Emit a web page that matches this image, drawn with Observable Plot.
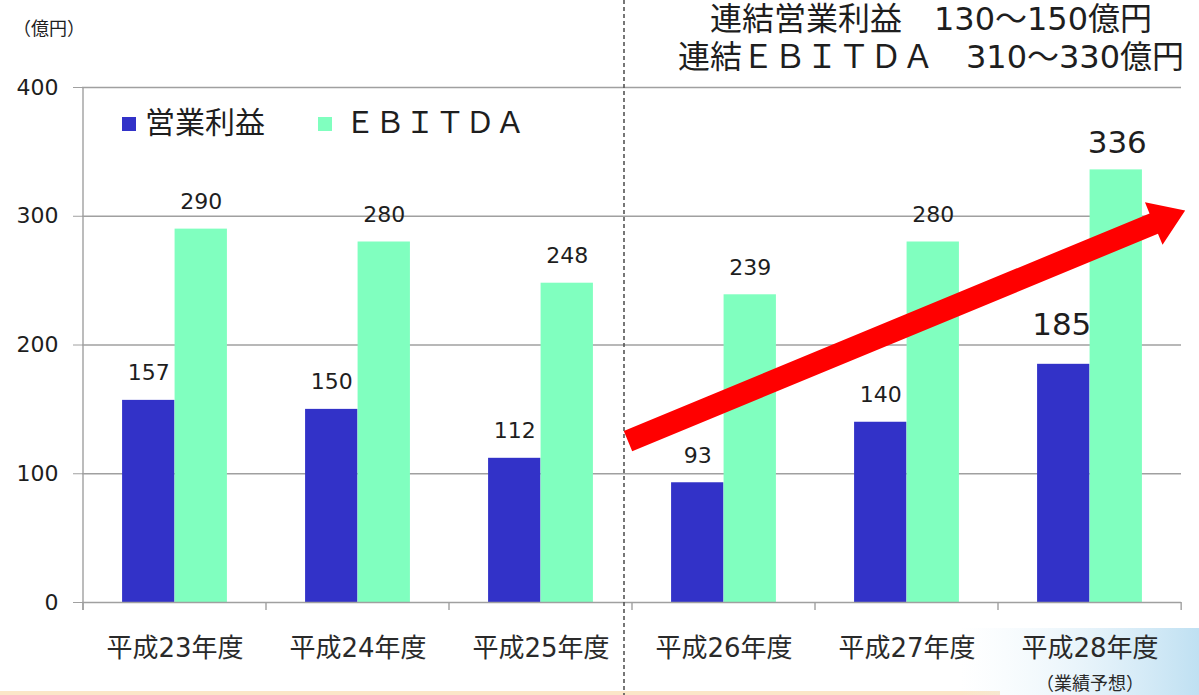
<!DOCTYPE html>
<html><head><meta charset="utf-8">
<script src="https://cdn.jsdelivr.net/npm/d3@7"></script>
<script src="https://cdn.jsdelivr.net/npm/@observablehq/plot@0.6"></script>
<style>
html,body{margin:0;padding:0;background:#fff;}
#chart{position:relative;width:1199px;height:695px;}
#chart svg g[aria-label^="y-axis"] line, #chart svg g[aria-label^="y-axis"] path {stroke:#a0a0a0;}
</style>
</head><body><div id="chart"></div>
<script>
// ---- data ----
const categories = ["平成23年度","平成24年度","平成25年度","平成26年度","平成27年度","平成28年度"];
const operatingProfit = [157,150,112,93,140,185];
const ebitda = [290,280,248,239,280,336];
const yTicks = [0,100,200,300,400];
const gridValues = [100,200,300,400];
const seriesNames = ["営業利益","ＥＢＩＴＤＡ"];
const forecastNote = "（業績予想）";
const unitLabel = "（億円）";
const targetLines = ["連結営業利益　130〜150億円","連結ＥＢＩＴＤＡ　310〜330億円"];
const arrowFrom = {category: "平成26年度", edge: 0, value: 125};
const arrowTo = {category: "平成28年度", edge: 1, value: 304};

// ---- style ----
const W = 1199, H = 695, mL = 82, mR = 18, mT = 87, mB = 93;
const BLUE = "#3232C8", GREEN = "#80FFBF", GRID = "#a0a0a0", INK = "#1e1e1e";
const NUM_FONT = "'DejaVu Sans', 'Noto Sans CJK JP', sans-serif";
const JP_FONT = "'Noto Sans CJK JP', sans-serif";
const bw = (W - mL - mR) / categories.length;
const barW = 52.5;

const rows = categories.map((c, i) => ({cat: c, op: operatingProfit[i], eb: ebitda[i], forecast: i === categories.length - 1}));
const normal = rows.filter(d => !d.forecast);
const fc = rows.filter(d => d.forecast);

const chart = Plot.plot({
  width: W, height: H,
  marginLeft: mL, marginRight: mR, marginTop: mT, marginBottom: mB,
  style: {fontFamily: NUM_FONT, fontSize: "22px", color: INK, background: "transparent"},
  x: {type: "band", domain: categories, padding: 0, axis: null},
  y: {domain: [0, 400], ticks: yTicks, tickSize: 9, tickPadding: 15, label: null, tickFormat: d => String(d)},
  marks: [
    Plot.ruleY(gridValues, {stroke: GRID, strokeWidth: 1.3}),
    Plot.barY(rows, {x: "cat", y: "op", fill: BLUE, insetLeft: bw / 2 - barW, insetRight: bw / 2}),
    Plot.barY(rows, {x: "cat", y: "eb", fill: GREEN, insetLeft: bw / 2, insetRight: bw / 2 - barW}),
    Plot.ruleY([0], {stroke: GRID, strokeWidth: 1.6}),
    Plot.text(normal, {x: "cat", y: "op", text: d => String(d.op), dx: -barW / 2, dy: -27, fontSize: 22, fill: INK}),
    Plot.text(normal, {x: "cat", y: "eb", text: d => String(d.eb), dx: barW / 2, dy: -27, fontSize: 22, fill: INK}),
    Plot.text(fc, {x: "cat", y: "op", text: d => String(d.op), dx: -barW / 2 - 2, dy: -39, fontSize: 31, fill: INK}),
    Plot.text(fc, {x: "cat", y: "eb", text: d => String(d.eb), dx: barW / 2 + 1, dy: -27, fontSize: 31, fill: INK}),
    Plot.text(categories, {x: d => d, y: () => 0, dy: 46, fontSize: 26, fontFamily: NUM_FONT, fill: "#2a2a2a"}),
    Plot.text([forecastNote], {x: () => categories[categories.length - 1], y: () => 0, dy: 82, fontSize: 18, fontFamily: JP_FONT, fill: "#2a2a2a"})
  ]
});
document.getElementById("chart").appendChild(chart);

// ---- annotations positioned through the plot's scales ----
const svg = d3.select(chart);
const xs = chart.scale("x"), ys = chart.scale("y");
const bandStart = c => xs.apply(c);
const y0 = ys.apply(0), yTop = ys.apply(400);

// background accents
const defs = svg.insert("defs", ":first-child");
const g1 = defs.append("linearGradient").attr("id", "bgblue").attr("x1", 0).attr("x2", 1).attr("y1", 0).attr("y2", 0);
g1.append("stop").attr("offset", "0%").attr("stop-color", "#e6f3fb").attr("stop-opacity", 0);
g1.append("stop").attr("offset", "100%").attr("stop-color", "#bfe0f2").attr("stop-opacity", 1);
svg.insert("rect", "defs + *").attr("x", 960).attr("y", 628).attr("width", W - 960).attr("height", H - 628).attr("fill", "url(#bgblue)");
svg.insert("rect", "defs + *").attr("x", 0).attr("y", H - 4).attr("width", 1000).attr("height", 4).attr("fill", "#fbe6c8");

// left axis line and category boundary ticks
const ax = svg.append("g").attr("stroke", GRID).attr("stroke-width", 1.4);
ax.append("line").attr("x1", bandStart(categories[0])).attr("x2", bandStart(categories[0])).attr("y1", yTop).attr("y2", y0 + 8);
categories.forEach((c, i) => {
  const xx = bandStart(c);
  ax.append("line").attr("x1", xx).attr("x2", xx).attr("y1", y0).attr("y2", y0 + 8);
  if (i === categories.length - 1) ax.append("line").attr("x1", xx + bw).attr("x2", xx + bw).attr("y1", y0).attr("y2", y0 + 8);
});

// dashed divider between actuals and plan
const divX = bandStart(categories[3]) - 8;
svg.append("line").attr("x1", divX).attr("x2", divX).attr("y1", 0).attr("y2", H)
  .attr("stroke", "#555").attr("stroke-width", 1.6).attr("stroke-dasharray", "4,3");

// red trend arrow
const p0 = [bandStart(arrowFrom.category) + arrowFrom.edge * bw - 4, ys.apply(arrowFrom.value)];
const p1 = [bandStart(arrowTo.category) + arrowTo.edge * bw + 4, ys.apply(arrowTo.value)];
const dxA = p1[0] - p0[0], dyA = p1[1] - p0[1], L = Math.hypot(dxA, dyA);
const ux = dxA / L, uy = dyA / L, nx = -uy, ny = ux;
const shaft = 11, head = 23, headLen = 34;
const hb = [p1[0] - ux * headLen, p1[1] - uy * headLen];
const pts = [
  [p0[0] + nx * shaft, p0[1] + ny * shaft],
  [hb[0] + nx * shaft, hb[1] + ny * shaft],
  [hb[0] + nx * head, hb[1] + ny * head],
  p1,
  [hb[0] - nx * head, hb[1] - ny * head],
  [hb[0] - nx * shaft, hb[1] - ny * shaft],
  [p0[0] - nx * shaft, p0[1] - ny * shaft]
];
svg.append("polygon").attr("points", pts.map(p => p.join(",")).join(" ")).attr("fill", "#ff0000");

// legend
const lg = svg.append("g").attr("font-family", JP_FONT).attr("font-size", 30).attr("fill", INK).attr("text-anchor", "start");
[[BLUE, 122, 145], [GREEN, 318, 345]].forEach(([col, sx, tx], i) => {
  lg.append("rect").attr("x", sx).attr("y", 117).attr("width", 14).attr("height", 14).attr("fill", col);
  lg.append("text").attr("x", tx).attr("y", 125).attr("dominant-baseline", "middle").text(seriesNames[i]);
});

// unit label and plan text
svg.append("text").attr("x", 13).attr("y", 30).attr("dominant-baseline", "middle").attr("text-anchor", "start")
  .attr("font-family", JP_FONT).attr("font-size", 18).attr("fill", INK).text(unitLabel);
targetLines.forEach((t, i) => {
  svg.append("text").attr("x", 931).attr("y", 21 + i * 38).attr("text-anchor", "middle").attr("dominant-baseline", "middle")
    .attr("font-family", NUM_FONT).attr("font-size", 32).attr("fill", INK).text(t);
});
</script>
</body></html>
